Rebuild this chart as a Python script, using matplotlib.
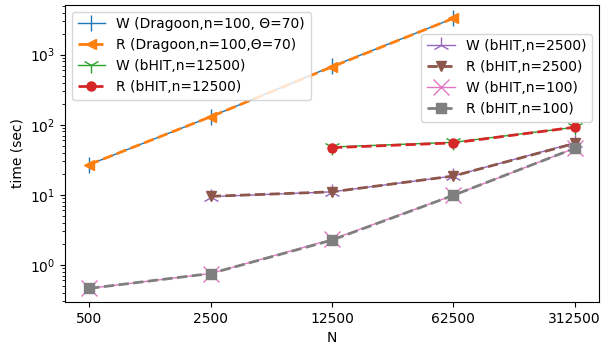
import matplotlib
matplotlib.use("Agg")
import matplotlib.pyplot as plt

xticks = [500, 2500, 12500, 62500, 312500]

n_drag = [500, 2500, 12500, 62500]
w_drag = [27, 130, 680, 3300]
r_drag = [27, 130, 670, 3300]

n_12500 = [12500, 62500, 312500]
w_12500 = [48, 56, 92]
r_12500 = [47, 55, 92]

n_2500 = [2500, 12500, 62500, 312500]
w_2500 = [9.4, 11, 18.5, 55]
r_2500 = [9.5, 11, 18.5, 54]

n_100 = [500, 2500, 12500, 62500, 312500]
w_100 = [0.46, 0.75, 2.3, 9.8, 46]
r_100 = [0.46, 0.75, 2.25, 9.8, 46]

fig, ax = plt.subplots(figsize=(6.08, 3.47), dpi=100)
wms, rms = 12, 6.5
l1, = ax.plot(n_drag, w_drag, marker='|', ms=wms, lw=1, color='C0', label='W (Dragoon,n=100, Θ=70)')
l2, = ax.plot(n_drag, r_drag, marker='<', ms=rms, lw=2, ls='--', color='C1', label='R (Dragoon,n=100,Θ=70)')
l3, = ax.plot(n_12500, w_12500, marker='1', ms=wms, lw=1, color='C2', label='W (bHIT,n=12500)')
l4, = ax.plot(n_12500, r_12500, marker='o', ms=rms, lw=2, ls='--', color='C3', label='R (bHIT,n=12500)')
l5, = ax.plot(n_2500, w_2500, marker='2', ms=wms, lw=1, color='C4', label='W (bHIT,n=2500)')
l6, = ax.plot(n_2500, r_2500, marker='v', ms=rms, lw=2, ls='--', color='C5', label='R (bHIT,n=2500)')
l7, = ax.plot(n_100, w_100, marker='x', ms=wms, lw=1, color='C6', label='W (bHIT,n=100)')
l8, = ax.plot(n_100, r_100, marker='s', ms=rms, lw=2, ls='--', color='C7', label='R (bHIT,n=100)')

ax.set_xscale('log')
ax.set_yscale('log')
ax.set_xticks(xticks)
ax.set_xticklabels([str(v) for v in xticks])
ax.xaxis.set_minor_locator(matplotlib.ticker.NullLocator())
ax.set_xlabel('N')
ax.set_ylabel('time (sec)')

leg1 = ax.legend(handles=[l1, l2, l3, l4], loc='upper left')
ax.add_artist(leg1)
ax.legend(handles=[l5, l6, l7, l8], loc='upper right', bbox_to_anchor=(1.0, 0.926))

fig.subplots_adjust(left=0.107, right=0.985, top=0.986, bottom=0.13)
fig.savefig('out.png')
